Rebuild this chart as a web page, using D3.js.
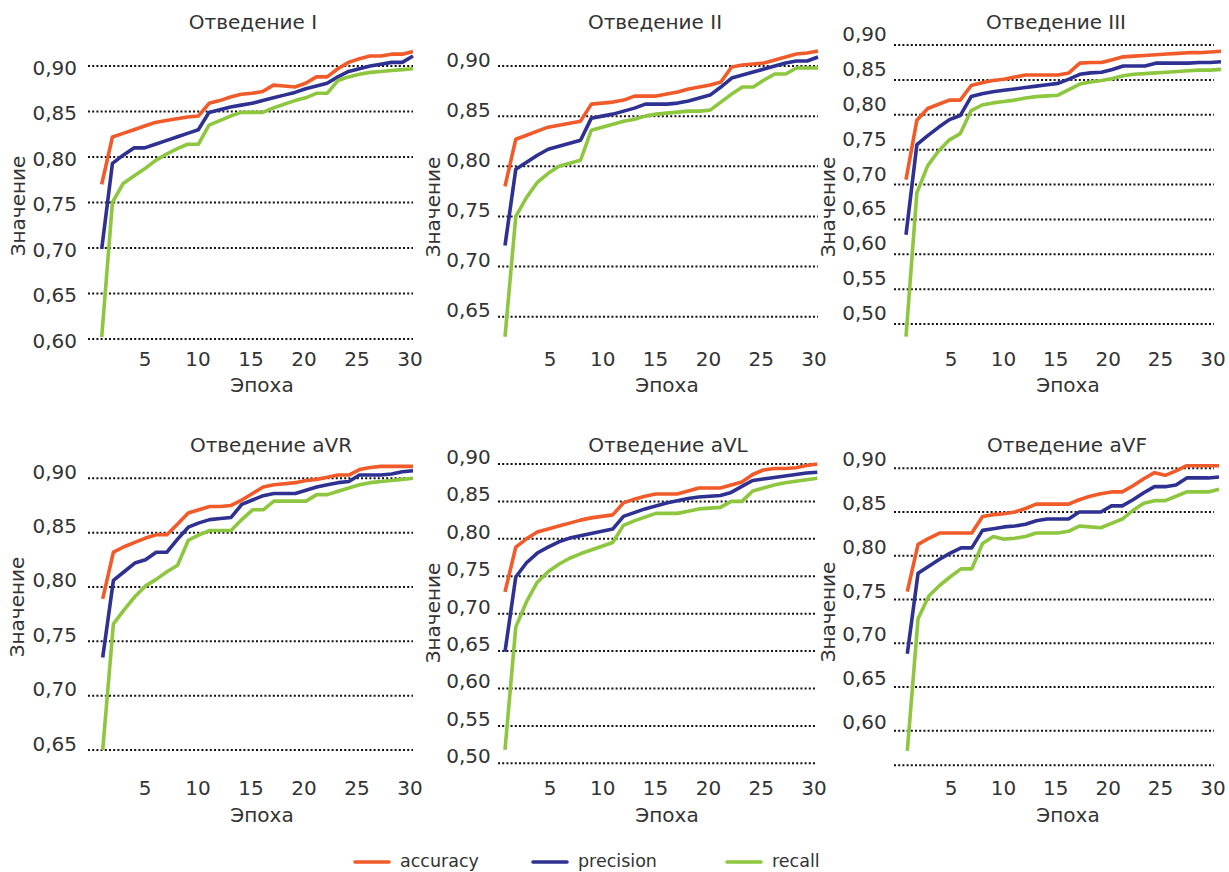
<!DOCTYPE html>
<html><head><meta charset="utf-8">
<script src="https://cdn.jsdelivr.net/npm/d3@7"></script>
<style>
html,body{margin:0;padding:0;background:#fff;}
svg text{font-family:"DejaVu Sans",sans-serif;fill:#333;}
</style></head>
<body><svg id="c" width="1229" height="872"></svg>
<script>
// ---------- DATA ----------
const epochs = [1,2,3,4,5,6,7,8,9,10,11,12,13,14,15,16,17,18,19,20,21,22,23,24,25,26,27,28,29,30];
const xTicks = [5,10,15,20,25,30];
const seriesNames = ["accuracy","precision","recall"];
const leadTitles = ["Отведение I","Отведение II","Отведение III","Отведение aVR","Отведение aVL","Отведение aVF"];

const yTicksI   = [0.60,0.65,0.70,0.75,0.80,0.85,0.90];
const yTicksII  = [0.65,0.70,0.75,0.80,0.85,0.90];
const yTicksIII = [0.50,0.55,0.60,0.65,0.70,0.75,0.80,0.85,0.90];
const yTicksAVR = [0.65,0.70,0.75,0.80,0.85,0.90];
const yTicksAVL = [0.50,0.55,0.60,0.65,0.70,0.75,0.80,0.85,0.90];
const yTicksAVF = [0.60,0.65,0.70,0.75,0.80,0.85,0.90];

const accI  = [0.770,0.822,0.826,0.830,0.834,0.838,0.840,0.842,0.844,0.845,0.859,0.862,0.866,0.869,0.870,0.872,0.879,0.878,0.877,0.881,0.888,0.888,0.897,0.904,0.908,0.911,0.911,0.913,0.913,0.916];
const precI = [0.699,0.793,0.802,0.810,0.810,0.814,0.818,0.822,0.826,0.830,0.849,0.852,0.855,0.857,0.859,0.862,0.865,0.868,0.871,0.875,0.878,0.881,0.888,0.894,0.897,0.900,0.902,0.904,0.904,0.911];
const recI  = [0.602,0.750,0.771,0.779,0.787,0.796,0.803,0.809,0.814,0.814,0.835,0.840,0.845,0.849,0.849,0.849,0.854,0.858,0.862,0.865,0.870,0.870,0.884,0.888,0.891,0.893,0.894,0.895,0.896,0.897];

const accII  = [0.780,0.827,0.831,0.835,0.839,0.841,0.843,0.845,0.862,0.863,0.864,0.866,0.870,0.870,0.870,0.872,0.874,0.877,0.879,0.881,0.884,0.899,0.901,0.902,0.903,0.906,0.909,0.912,0.913,0.915];
const precII = [0.721,0.797,0.804,0.811,0.817,0.820,0.823,0.826,0.848,0.850,0.852,0.855,0.858,0.862,0.862,0.862,0.863,0.865,0.868,0.871,0.879,0.888,0.891,0.894,0.897,0.900,0.903,0.905,0.905,0.909];
const recII  = [0.630,0.750,0.769,0.784,0.793,0.800,0.803,0.806,0.836,0.839,0.842,0.845,0.847,0.850,0.852,0.853,0.854,0.855,0.855,0.856,0.864,0.872,0.879,0.879,0.886,0.892,0.892,0.898,0.898,0.898];

const accIII  = [0.707,0.792,0.809,0.815,0.821,0.821,0.842,0.846,0.849,0.851,0.854,0.857,0.857,0.857,0.857,0.860,0.874,0.875,0.875,0.879,0.883,0.884,0.885,0.886,0.887,0.888,0.889,0.889,0.890,0.891];
const precIII = [0.628,0.757,0.770,0.782,0.793,0.799,0.826,0.830,0.833,0.835,0.837,0.839,0.841,0.843,0.845,0.851,0.858,0.860,0.861,0.865,0.870,0.870,0.870,0.874,0.874,0.874,0.874,0.875,0.875,0.876];
const recIII  = [0.482,0.688,0.727,0.748,0.764,0.773,0.806,0.814,0.817,0.819,0.821,0.824,0.826,0.827,0.828,0.836,0.844,0.847,0.849,0.852,0.856,0.858,0.859,0.860,0.861,0.862,0.863,0.864,0.864,0.865];

const accAVR  = [0.789,0.832,0.837,0.841,0.845,0.848,0.848,0.858,0.868,0.871,0.874,0.874,0.875,0.880,0.886,0.892,0.894,0.895,0.896,0.898,0.899,0.901,0.903,0.903,0.908,0.910,0.911,0.911,0.911,0.911];
const precAVR = [0.735,0.806,0.814,0.822,0.825,0.832,0.832,0.844,0.855,0.859,0.862,0.863,0.864,0.876,0.880,0.884,0.886,0.886,0.886,0.889,0.892,0.894,0.896,0.897,0.903,0.903,0.903,0.904,0.906,0.907];
const recAVR  = [0.650,0.766,0.779,0.791,0.801,0.807,0.814,0.820,0.843,0.848,0.852,0.852,0.852,0.862,0.871,0.871,0.879,0.879,0.879,0.879,0.885,0.885,0.888,0.891,0.894,0.896,0.897,0.898,0.899,0.900];

const accAVL  = [0.729,0.789,0.800,0.809,0.813,0.817,0.821,0.825,0.828,0.830,0.832,0.848,0.853,0.857,0.860,0.860,0.860,0.864,0.868,0.868,0.868,0.872,0.876,0.886,0.892,0.894,0.894,0.895,0.898,0.900];
const precAVL = [0.649,0.749,0.768,0.781,0.789,0.796,0.801,0.804,0.807,0.810,0.813,0.830,0.835,0.840,0.844,0.848,0.851,0.854,0.856,0.857,0.858,0.862,0.870,0.878,0.880,0.882,0.884,0.886,0.888,0.889];
const recAVL  = [0.518,0.682,0.716,0.742,0.756,0.766,0.774,0.780,0.785,0.790,0.795,0.818,0.824,0.829,0.834,0.834,0.834,0.837,0.840,0.841,0.842,0.850,0.850,0.864,0.868,0.872,0.875,0.877,0.879,0.881];

const accAVF  = [0.759,0.813,0.820,0.826,0.826,0.826,0.826,0.845,0.847,0.848,0.850,0.854,0.859,0.859,0.859,0.859,0.864,0.868,0.871,0.873,0.873,0.880,0.888,0.895,0.892,0.897,0.903,0.903,0.903,0.903];
const precAVF = [0.688,0.780,0.788,0.796,0.803,0.809,0.809,0.829,0.831,0.833,0.834,0.836,0.840,0.842,0.842,0.842,0.850,0.850,0.850,0.857,0.857,0.864,0.872,0.879,0.879,0.881,0.889,0.889,0.889,0.890];
const recAVF  = [0.577,0.728,0.754,0.766,0.776,0.785,0.785,0.814,0.822,0.819,0.820,0.822,0.826,0.826,0.826,0.828,0.834,0.833,0.832,0.837,0.842,0.852,0.860,0.863,0.863,0.868,0.873,0.873,0.873,0.876];

// ---------- LAYOUT ----------
const colors = {accuracy:"#f15a29", precision:"#2e3192", recall:"#8dc63f"};
const panels = [
  {title:leadTitles[0], series:[accI,precI,recI],       ticks:yTicksI,   xs:101.7, xe:413,  t5:145, t30:410,  gx0:88,  gx1:413,  yT:66,    yB:339,   lblR:77,    lblDy:1.5,  titleX:253, titleY:22,  axY:359, epX:262,  epY:385, znX:18,  znY:206},
  {title:leadTitles[1], series:[accII,precII,recII],    ticks:yTicksII,  xs:505,   xe:818,  t5:550, t30:814,  gx0:498, gx1:818,  yT:66,    yB:316.7, lblR:490.7, lblDy:-6.5, titleX:655, titleY:22,  axY:359, epX:667,  epY:385, znX:433, znY:207},
  {title:leadTitles[2], series:[accIII,precIII,recIII], ticks:yTicksIII, xs:906,   xe:1221, t5:951, t30:1213, gx0:894, gx1:1214, yT:45,    yB:324,   lblR:886.7, lblDy:-11,  titleX:1056,titleY:22,  axY:359, epX:1068, epY:385, znX:828, znY:207},
  {title:leadTitles[3], series:[accAVR,precAVR,recAVR], ticks:yTicksAVR, xs:102.7, xe:413,  t5:145, t30:410,  gx0:88,  gx1:413,  yT:478.3, yB:750,   lblR:77,    lblDy:-6.5, titleX:271, titleY:445, axY:788, epX:262,  epY:815, znX:17,  znY:607},
  {title:leadTitles[4], series:[accAVL,precAVL,recAVL], ticks:yTicksAVL, xs:505,   xe:817.3,t5:550, t30:814,  gx0:498, gx1:817,  yT:464,   yB:763.3, lblR:490.7, lblDy:-7,   titleX:668, titleY:445, axY:788, epX:667,  epY:815, znX:433, znY:613},
  {title:leadTitles[5], series:[accAVF,precAVF,recAVF], ticks:yTicksAVF, xs:907.3, xe:1219, t5:951, t30:1213, gx0:894, gx1:1214, yT:468.3, yB:730.7, lblR:886.7, lblDy:-9,   titleX:1067,titleY:445, axY:788, epX:1068, epY:815, znX:828, znY:612, bottomLine:765.3}
];

const svg = d3.select("#c");
const fmt = v => d3.format(".2f")(v).replace(".", ",");

panels.forEach(p => {
  const g = svg.append("g");
  const x = d3.scaleLinear().domain([1,30]).range([p.xs, p.xe]);
  const xt = d3.scaleLinear().domain([5,30]).range([p.t5, p.t30]);
  const y = d3.scaleLinear().domain([0.90, p.ticks[0]]).range([p.yT, p.yB]);

  // gridlines
  g.selectAll("line.grid").data(p.ticks).enter().append("line")
    .attr("x1", p.gx0).attr("x2", p.gx1)
    .attr("y1", d => y(d)).attr("y2", d => y(d))
    .attr("stroke", "#111").attr("stroke-width", 2).attr("stroke-dasharray", "2,2.2");
  if (p.bottomLine) {
    g.append("line").attr("x1", p.gx0).attr("x2", p.gx1).attr("y1", p.bottomLine).attr("y2", p.bottomLine)
      .attr("stroke", "#111").attr("stroke-width", 2).attr("stroke-dasharray", "2,2.2");
  }
  // y tick labels
  g.selectAll("text.yt").data(p.ticks).enter().append("text")
    .attr("x", p.lblR).attr("y", d => y(d) + p.lblDy)
    .attr("text-anchor", "end").attr("dominant-baseline", "central")
    .style("font-size", "20px").text(fmt);
  // x tick labels
  g.selectAll("text.xt").data(xTicks).enter().append("text")
    .attr("x", d => xt(d)).attr("y", p.axY)
    .attr("text-anchor", "middle").attr("dominant-baseline", "central")
    .style("font-size", "20px").text(d => d);
  // lines
  const line = d3.line().x((d,i) => x(epochs[i])).y(d => y(d));
  p.series.forEach((s, k) => {
    g.append("path").datum(s).attr("d", line).attr("fill", "none")
      .attr("stroke", colors[seriesNames[k]]).attr("stroke-width", 3.6)
      .attr("stroke-linejoin", "round");
  });
  // titles
  g.append("text").attr("x", p.titleX).attr("y", p.titleY).attr("text-anchor", "middle")
    .attr("dominant-baseline", "central").style("font-size", "20px").text(p.title);
  g.append("text").attr("x", p.epX).attr("y", p.epY).attr("text-anchor", "middle")
    .attr("dominant-baseline", "central").style("font-size", "20px").text("Эпоха");
  g.append("text").attr("transform", `translate(${p.znX},${p.znY}) rotate(-90)`)
    .attr("text-anchor", "middle").attr("dominant-baseline", "central")
    .style("font-size", "20px").text("Значение");
});

// legend
const legendX = [355, 533, 727];
const lg = svg.append("g");
seriesNames.forEach((n, i) => {
  lg.append("line").attr("x1", legendX[i]).attr("x2", legendX[i] + 34)
    .attr("y1", 862).attr("y2", 862).attr("stroke", colors[n]).attr("stroke-width", 3.6)
    .attr("stroke-linecap", "round");
  lg.append("text").attr("x", legendX[i] + 45).attr("y", 861).attr("dominant-baseline", "central")
    .style("font-size", "17.5px").text(n);
});
</script></body></html>
